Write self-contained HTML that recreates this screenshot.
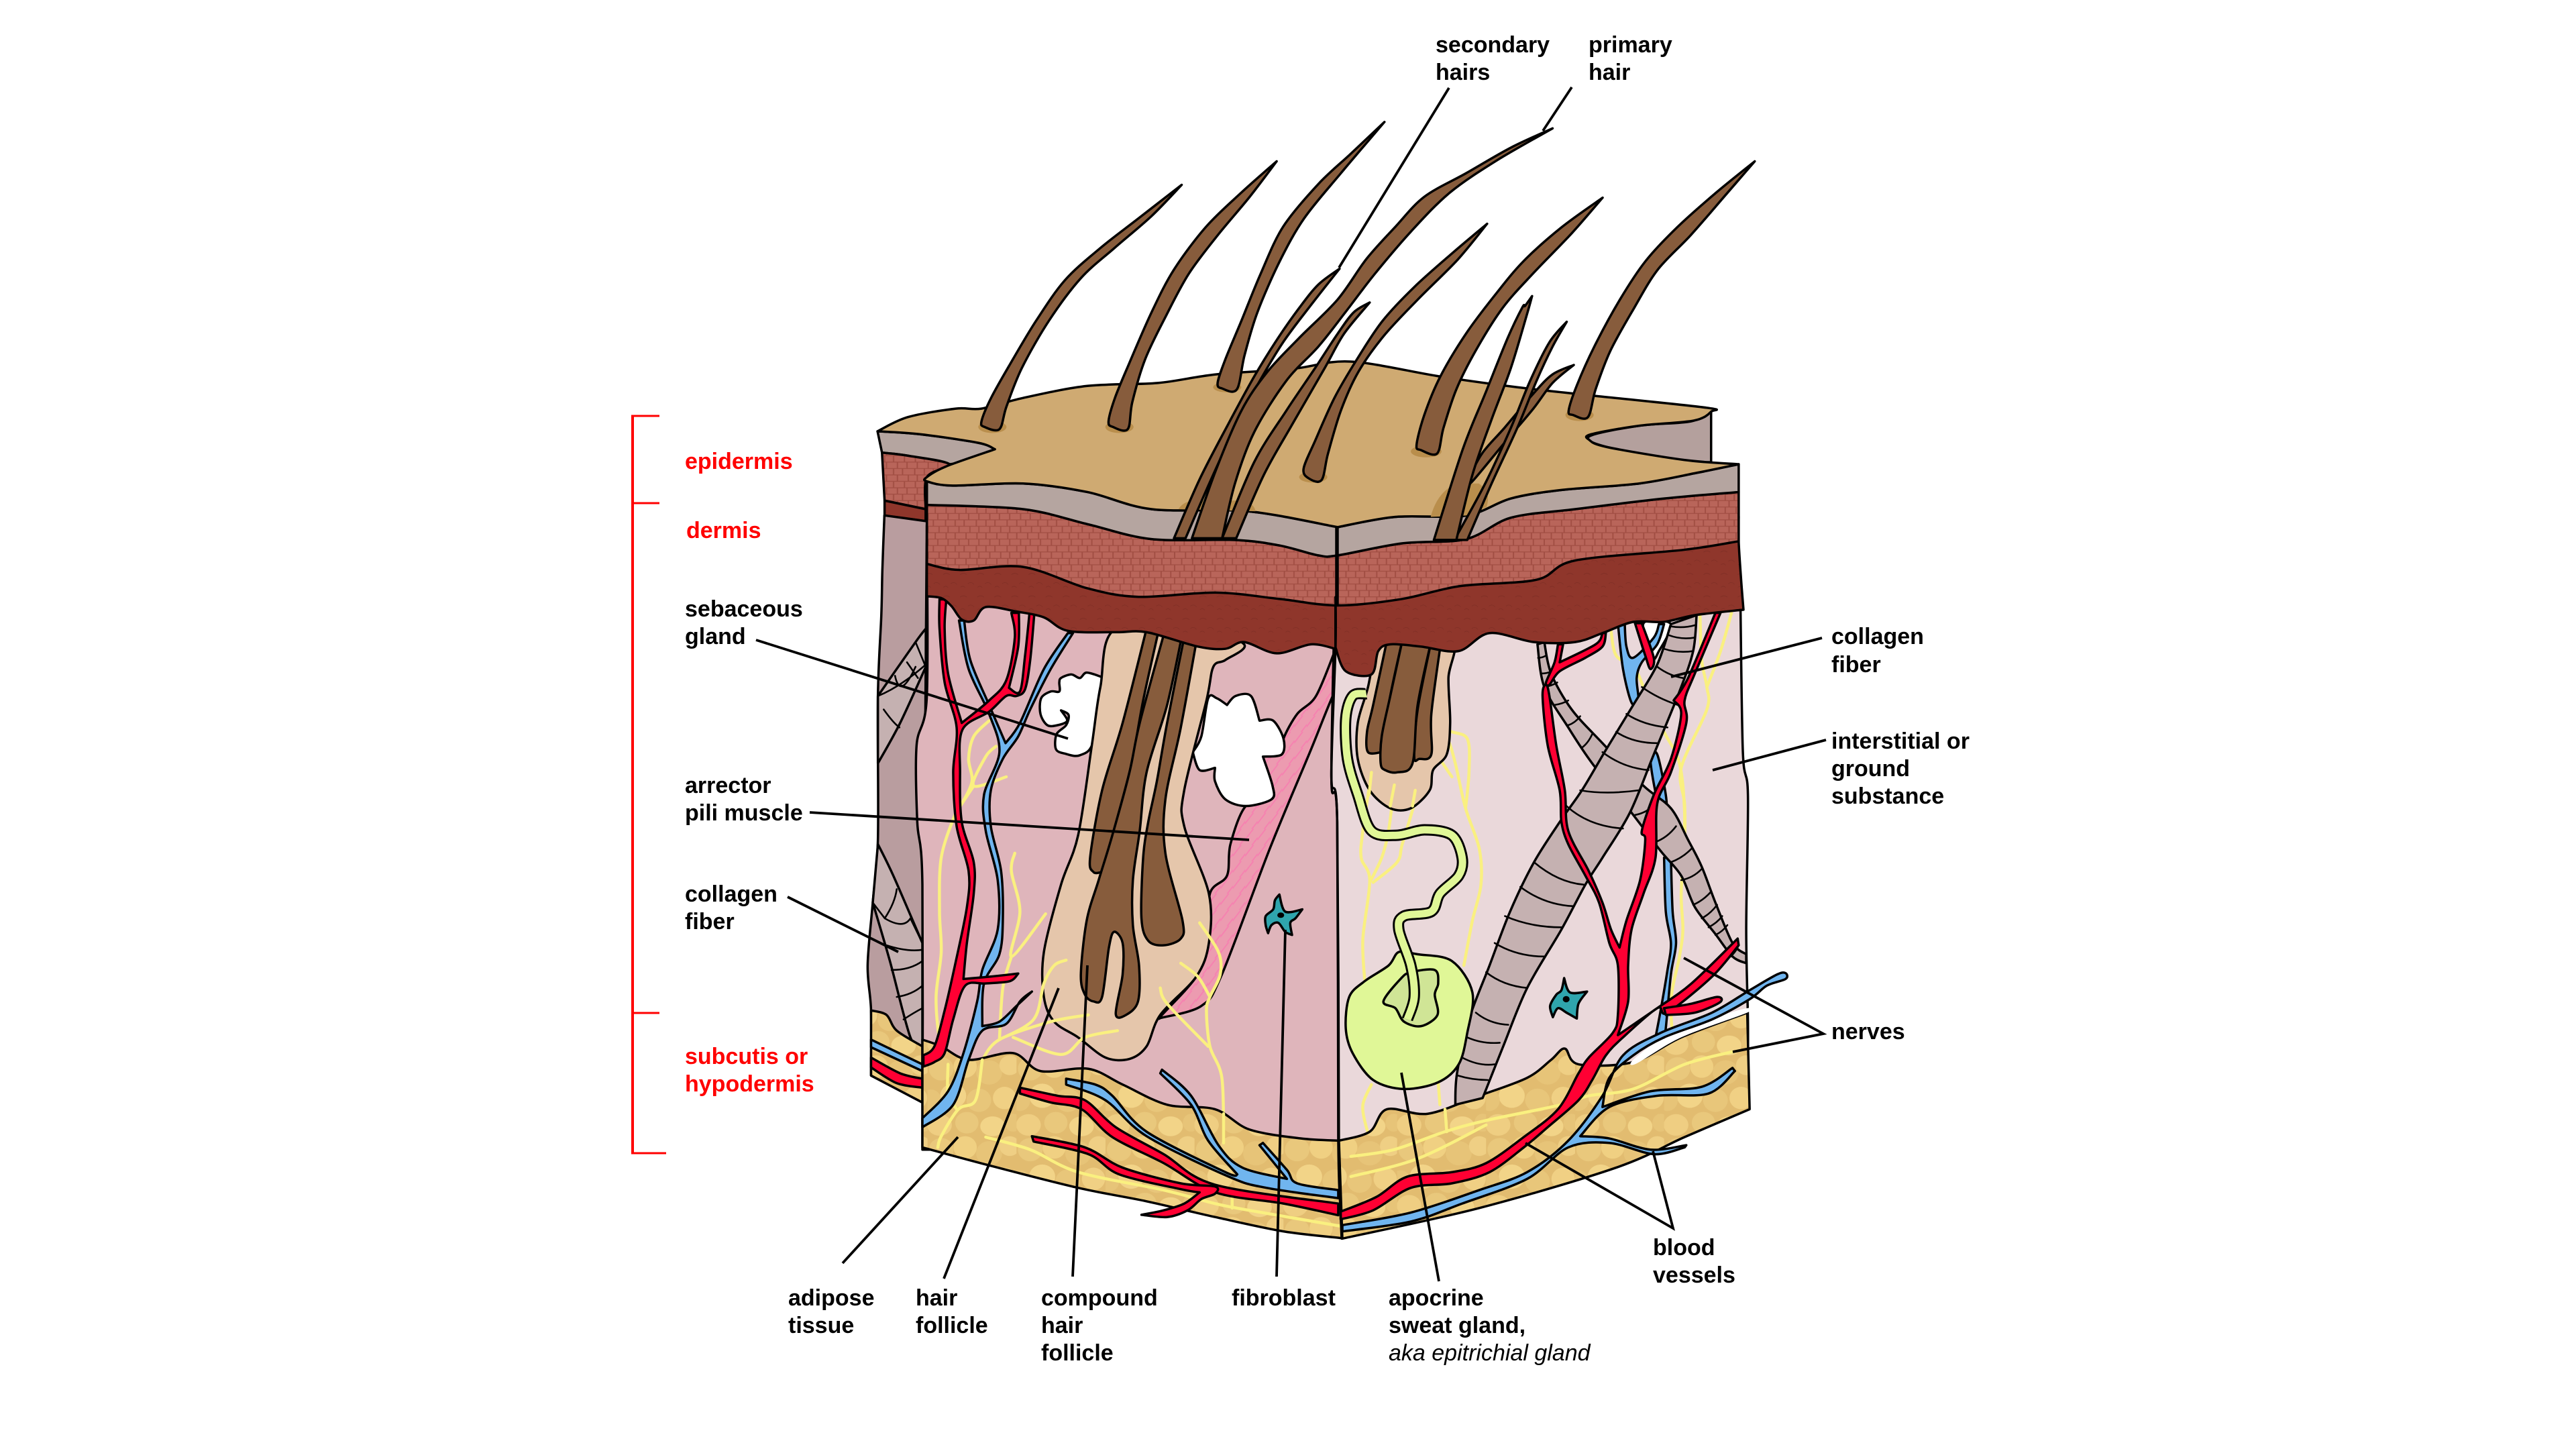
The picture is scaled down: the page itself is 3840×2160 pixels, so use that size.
<!DOCTYPE html>
<html><head><meta charset="utf-8"><title>Skin diagram</title>
<style>
html,body{margin:0;padding:0;background:#fff}
svg{display:block}
svg *{vector-effect:non-scaling-stroke}
.k{stroke:#000;stroke-width:3.5;stroke-linejoin:round;stroke-linecap:round}
.n{fill:none;stroke:#000;stroke-width:2.6;stroke-linecap:round;stroke-linejoin:round}
.y{fill:none;stroke:#faf080;stroke-width:4.5;stroke-linejoin:round;stroke-linecap:round}
.h{fill:#875c3c}
.r{fill:#ff0033}
.b{fill:#70b5ef}
.c{fill:#c5b1b1}
.l{stroke:#000;stroke-width:3.8;fill:none}
text{font-family:"Liberation Sans",Arial,sans-serif;font-size:34px;font-weight:bold;fill:#000}
.red{fill:#f00}
</style></head><body>
<svg xmlns="http://www.w3.org/2000/svg" width="3840" height="2160" viewBox="0 0 3840 2160">
<defs>
<pattern id="brick" width="48" height="60" patternUnits="userSpaceOnUse">
<rect width="48" height="60" fill="#a14e43"/>
<path d="M1 1h13v13h-13zM16 1h14v13h-14zM32 1h15v13h-15zM0 16h7v13h-7zM9 16h17v13h-17zM28 16h13v13h-13zM43 16h5v13h-5zM1 31h15v13h-15zM18 31h12v13h-12zM32 31h15v13h-15zM0 46h10v13h-10zM12 46h15v13h-15zM29 46h12v13h-12zM43 46h5v13h-5z" fill="#b9655a"/>
</pattern>
<pattern id="dark" width="50" height="50" patternUnits="userSpaceOnUse">
<rect width="50" height="50" fill="#8f362b"/>
<path d="M5 10q10-6 20 0M28 30q10-6 18 2M6 38q8-5 14 1" stroke="#7f2e25" stroke-width="1.2" fill="none"/>
</pattern>
<pattern id="fat" width="260" height="180" patternUnits="userSpaceOnUse">
<rect width="260" height="180" fill="#e2bc70"/>
<ellipse cx="40" cy="30" rx="36" ry="26" fill="#e9c87c"/>
<ellipse cx="110" cy="25" rx="34" ry="25" fill="#f0d082"/>
<ellipse cx="180" cy="38" rx="38" ry="27" fill="#e7c478"/>
<ellipse cx="240" cy="22" rx="30" ry="22" fill="#efcf84"/>
<ellipse cx="75" cy="90" rx="38" ry="27" fill="#f2d488"/>
<ellipse cx="150" cy="100" rx="36" ry="26" fill="#e8c67a"/>
<ellipse cx="225" cy="95" rx="34" ry="25" fill="#f0d084"/>
<ellipse cx="10" cy="100" rx="30" ry="24" fill="#e7c478"/>
<ellipse cx="35" cy="155" rx="36" ry="24" fill="#efce82"/>
<ellipse cx="115" cy="150" rx="34" ry="24" fill="#e9c87c"/>
<ellipse cx="190" cy="158" rx="36" ry="22" fill="#f2d488"/>
<ellipse cx="250" cy="150" rx="24" ry="20" fill="#e7c478"/>
</pattern>
<pattern id="mus" width="36" height="36" patternUnits="userSpaceOnUse">
<rect width="36" height="36" fill="#ec9bb0"/>
<path d="M-6 30L30-6M10 46L46 10" stroke="#f77fb0" stroke-width="3"/>
</pattern>
</defs>

<!-- back pieces, top surface coordinates -->
<g transform="translate(1200,0) scale(.9566,.6378)">
<polygon class="k" fill="#b4a09d" points="1222,1020 1300,995 1380,985 1412,962 1412,962 1412,1080 1412,1080 1370,1078 1250,1045"/>
<polygon class="k" fill="#b5a5a0" points="113,1008 113,1008 180,1015 270,1035 296,1050 225,1085 160,1065 120,1058 120,1058"/>
<polygon class="k" fill="url(#brick)" points="120,1058 120,1058 160,1065 225,1085 190,1115 188,1190 188,1190 124,1170 124,1170"/>
<polygon class="k" fill="#8f362b" points="124,1170 124,1170 188,1190 188,1190 188,1218 188,1218 124,1205 124,1205"/>
</g>

<!-- LEFT FACE -->
<g transform="translate(1250,850) scale(.5102,.6696)">
<polygon class="k" fill="#b99d9f" points="134,-122 134,-122 128,0 125,100 115,280 115,600 100,740 85,880 95,980 95,1125 95,1125 245,1185 245,1185 258,-109 258,-109"/>
<polygon class="k c" points="115,430 115,430 180,340 255,215 255,215 255,130 255,130 225,160 115,280 115,280"/>
<path class="n" d="M115,280Q180,260 255,210M165,235Q180,290 225,215M200,205L232,240M132,310Q160,340 178,350M225,160L252,210"/>
<polygon class="k c" points="115,610 115,610 160,680 245,830 245,830 245,1060 245,1060 210,1040 150,870 100,740 100,740"/>
<path class="n" d="M100,740L135,775Q165,740 170,710M135,775Q190,800 210,775L245,830M140,835Q200,850 245,845M155,890Q210,890 245,870M170,950Q215,945 245,925M190,1000Q220,985 245,975"/>
<polygon class="k" fill="url(#fat)" points="95,980 95,980 140,990 170,1025 245,1060 245,1060 245,1185 245,1185 95,1125 95,1125"/>
<polygon class="k b" points="95,1045 95,1045 245,1100 245,1100 245,1115 245,1115 95,1062 95,1062"/>
<polygon class="k r" points="95,1085 95,1085 180,1120 245,1132 245,1132 245,1152 245,1152 170,1142 95,1107 95,1107"/>

<polygon class="k" fill="#dfb5bb" points="258,-100 258,-100 258,280 228,390 230,560 245,700 245,1290 245,1290 1470,1290 1470,1290 1465,1270 1458,560 1440,460 1452,170 1452,-100 1452,-100"/>

<polygon class="k" fill="url(#mus)" points="1450,180 1450,180 1490,230 1490,230 1450,270 1380,400 1260,620 1120,900 1060,970 940,997 940,997 945,990 1045,905 1082,830 1085,720 1135,680 1145,610 1190,525 1265,510 1268,480 1240,415 1295,410 1300,375 1340,320 1395,280"/>
<polygon class="k" fill="#fff" points="650,240 680,232 705,240 725,228 770,238 770,238 745,380 705,412 660,408 635,398 637,365 665,345 672,322 650,312 650,312 668,335 640,345 610,345 590,320 592,285 620,270 645,270 645,250"/>
<polygon class="k" fill="#fff" points="1080,285 1105,285 1135,300 1135,300 1160,280 1205,280 1230,335 1230,335 1270,335 1300,375 1295,410 1240,415 1240,415 1268,480 1265,510 1190,525 1130,510 1100,470 1100,440 1100,440 1055,445 1035,405 1035,405 1060,370"/>

<polygon class="k" fill="#e5c6ab" points="810,130 765,260 740,390 700,590 650,700 600,850 600,950 630,1005 700,1040 780,1085 850,1088 900,1060 940,990 1045,905 1082,830 1082,720 1010,570 1010,490 1075,290 1095,215 1130,200 1185,165 1050,130"/>
<polygon class="k" fill="#f2ddc8" points="850,450 858,400 870,350 882,340 862,430"/>
<polygon class="k h" points="900,130 900,130 935,135 935,135 890,290 850,450 770,672 770,672 745,672 735,640 770,490 830,340"/>
<polygon class="k h" points="955,130 955,130 1005,140 1005,140 960,300 900,450 880,580 860,690 860,790 878,880 875,960 840,990 810,988 830,900 830,830 805,805 790,840 770,950 745,960 720,945 708,900 725,780 760,690 800,590 850,450 880,340"/>
<polygon class="k h" points="1015,130 1015,130 1050,140 1050,140 1000,350 955,510 955,630 1005,780 1000,820 950,835 905,825 885,775 890,640 905,560 930,470 960,340"/>

<path class="y" d="M440,335L395,370 380,420 390,470 360,520 340,545 300,640 295,760 300,850 285,950 295,1050 320,1165M460,392L430,415 395,480 490,460M395,480L360,520M515,630L505,670 530,760 505,860 605,765M505,860L480,930 470,1045M420,1090L470,1045 620,1005 730,990M665,868L630,880 600,920 570,1000 470,1045M510,1040L650,1078 720,1040 815,1025M1055,785L1110,850 1115,900 1085,950 1075,980 1085,1060 1120,1130 1125,1270M1000,875L1050,905 1085,950M940,930L960,965 1080,1060"/>

<polygon class="k" fill="url(#fat)" points="245,1045 245,1045 300,1060 380,1090 510,1075 590,1115 730,1110 830,1145 960,1190 1100,1200 1200,1245 1350,1265 1465,1270 1465,1270 1472,1487 1472,1487 1300,1472 1100,1440 900,1405 700,1375 440,1325 245,1285 245,1285"/>
<path class="y" d="M430,1262L560,1290 700,1340 950,1380 1100,1410 1200,1425 1465,1460M420,1090L400,1180 350,1200 300,1260 290,1285M1150,1395L1150,1420M320,1100L320,1165 345,1200M1125,1210L1125,1275"/>

<polygon class="k b" points="352,112 352,112 367,112 367,112 385,200 440,300 488,385 488,385 530,340 600,220 670,140 670,140 685,140 685,140 620,220 560,310 525,370 480,420 445,490 445,570 475,670 480,780 470,855 425,920 420,1015 420,1015 470,1005 520,970 565,938 565,938 530,960 490,1010 420,1025 380,1090 335,1190 245,1240 245,1240 245,1220 245,1220 320,1160 365,1075 405,960 420,890 465,800 465,690 430,580 425,500 470,405 440,320 380,220"/>
<polygon class="k r" points="295,65 295,65 315,65 315,65 310,130 320,230 360,340 360,340 440,290 490,245 515,150 505,95 505,95 527,95 527,95 525,170 498,262 498,262 530,270 545,190 558,95 558,95 572,97 572,97 560,200 545,265 520,280 490,280 440,315 362,355 355,450 360,560 395,650 395,720 375,830 365,910 365,910 440,905 525,898 525,898 500,915 430,920 370,925 335,1000 310,1075 280,1095 248,1105 248,1105 248,1080 248,1080 280,1060 310,980 340,880 375,750 380,670 345,570 335,450 345,350 310,250 295,130"/>

<polygon class="k r" points="530,1152 530,1152 640,1170 720,1180 810,1240 950,1300 1100,1368 1460,1410 1460,1410 1460,1436 1460,1436 1300,1410 1100,1385 950,1320 800,1262 710,1200 620,1185 530,1165 530,1165"/>
<polygon class="k r" points="565,1260 565,1260 720,1285 830,1330 1000,1365 1100,1372 1100,1388 1060,1400 1020,1425 960,1440 885,1435 885,1435 950,1425 1010,1410 1055,1385 1055,1385 1000,1378 820,1345 730,1300 570,1272 570,1272"/>
<polygon class="k b" points="665,1132 665,1132 750,1145 800,1170 900,1250 1130,1340 1165,1345 1165,1345 1080,1270 1030,1190 940,1120 940,1120 945,1112 945,1112 1030,1170 1110,1280 1180,1330 1310,1355 1310,1355 1230,1280 1230,1280 1240,1275 1240,1275 1310,1335 1340,1365 1460,1380 1460,1380 1460,1398 1460,1398 1250,1375 1140,1350 900,1260 780,1180 665,1145 665,1145"/>

<polygon class="k" fill="#2fa5ad" points="1288,722 1288,722 1305,760 1355,755 1355,755 1335,775 1320,785 1325,812 1325,812 1305,805 1285,785 1265,790 1255,808 1255,808 1248,790 1248,770 1270,755 1275,735"/>
<ellipse cx="1292" cy="768" rx="10" ry="6" fill="#000"/>
</g>

<!-- RIGHT FACE -->
<g transform="translate(1950,850) scale(.5102,.6696)">
<polygon class="k" fill="#ead8da" points="80,0 80,0 1262,0 1262,0 1270,400 1285,500 1280,800 1285,1000 1285,1100 1285,1100 90,1280 90,1280 85,560 68,460"/>
<path class="y" d="M885,135L900,190 955,220 990,280 1040,360 1085,430 1100,540 1095,640M1145,100L1150,200 1165,260 1165,310 1090,440 1100,520 1100,600 1090,720 1095,800 1085,860 1060,960 1070,1080M1237,95L1205,180 1165,260M390,310L410,355 465,375 470,450 460,530M385,355L410,380 430,430 460,530 500,620 505,700 480,780 455,880M380,415L420,460M185,450L160,580 155,640 180,690 160,820 165,910M252,478L235,580 215,640 180,695M313,490L310,520 275,610 260,650 190,695M185,1145L160,1190 170,1240 190,1280M380,1140L385,1190"/>

<polygon class="k" fill="url(#fat)" points="90,1270 90,1270 180,1250 230,1200 350,1210 500,1170 640,1130 710,1090 750,1065 790,1100 950,1095 1090,1040 1283,985 1283,985 1290,1200 1290,1200 1100,1262 900,1330 500,1420 100,1488 100,1488"/>
<polygon fill="#fff" points="950,1090 1040,1040 1180,998 1283,975 1283,985 1090,1040 960,1098"/>
<path class="y" d="M125,1305L250,1290 400,1250 520,1225 740,1190 820,1170 950,1155 1100,1100 1240,1072M125,1350L320,1310 520,1235M400,1200L405,1250"/>

<polygon fill="#fff" class="k" points="980,118 1060,120 1025,180 1005,195"/>
<polygon class="k b" points="905,118 905,118 925,118 925,118 930,170 950,195 1010,150 1025,120 1025,120 1040,120 1040,120 1020,165 975,205 960,240 965,290 945,295 920,220"/>
<polygon class="k b" points="1000,420 1020,410 1045,500 1045,540 1020,510"/>
<polygon class="k b" points="1015,1040 1015,1040 1030,980 1050,890 1060,830 1045,760 1040,640 1040,640 1060,640 1060,640 1065,760 1075,830 1060,900 1045,1020 1040,1040 1040,1040"/>

<!-- thin collagen -->
<polygon class="k c" points="670,165 670,165 690,160 690,160 710,230 770,310 860,385 980,480 1060,530 1110,600 1150,660 1190,740 1240,830 1280,855 1280,855 1280,875 1280,875 1240,860 1190,810 1130,750 1090,680 1030,625 945,540 830,430 760,350 690,260"/>
<path class="n" d="M672,195Q685,195 695,190M680,230Q698,230 712,225M690,260Q710,258 728,250M720,300Q742,298 760,290M760,345Q780,340 795,325M800,395Q818,385 830,365M955,545Q990,540 1015,520M1015,605Q1050,595 1075,570M1060,650Q1095,640 1120,620M1090,690Q1125,685 1150,665M1125,745Q1155,735 1178,715M1150,775Q1175,765 1195,745M1170,795Q1195,785 1210,770M1190,812Q1210,805 1225,790M1235,860Q1248,850 1255,840"/>
<!-- big collagen -->
<polygon class="k c" points="430,1190 430,1190 435,1120 470,1000 530,880 590,760 660,650 740,555 800,490 870,400 950,300 1020,210 1060,120 1060,120 1135,100 1135,100 1125,180 1085,270 1010,410 940,540 860,640 810,700 740,800 640,930 570,1060 510,1175 510,1175"/>
<path class="n" d="M437,1125Q480,1135 525,1135M450,1085Q500,1105 545,1100M465,1040Q510,1055 560,1052M490,985Q530,1010 585,1012M520,895Q570,925 640,930M545,830Q610,860 690,860M575,770Q650,795 740,795M620,705Q690,745 775,748M660,650Q730,695 805,700M755,525Q820,570 920,575M795,490Q870,500 965,490M860,405Q920,440 995,445M900,360Q950,385 1020,385M930,320Q980,345 1050,350M975,260Q1020,285 1080,300M1020,215Q1055,235 1095,240M1040,175Q1080,185 1125,180M1055,145Q1090,155 1130,150M1060,125Q1095,130 1132,122"/>

<polygon class="k r" points="730,165 730,165 745,165 745,165 735,205 735,205 840,165 860,140 860,140 870,140 870,140 860,170 810,195 735,225 705,255 695,250 720,205"/>
<polygon class="k r" points="955,118 955,118 975,118 975,118 1010,195 1000,220 985,190"/>
<polygon class="k b" points="100,1458 100,1458 300,1430 500,1380 640,1340 760,1270 860,1170 920,1080 1030,1030 1180,985 1290,935 1370,900 1395,897 1395,910 1340,925 1290,955 1180,1000 1040,1040 950,1080 880,1130 860,1195 860,1195 1000,1160 1150,1150 1240,1108 1240,1108 1247,1115 1247,1115 1170,1165 1020,1170 880,1195 795,1260 795,1260 880,1265 1000,1290 1105,1280 1105,1280 1100,1285 1100,1285 1010,1300 880,1275 760,1285 640,1355 450,1410 300,1450 100,1472 100,1472"/>
<polygon class="k r" points="95,1428 95,1428 200,1395 290,1350 420,1340 520,1320 630,1262 730,1200 790,1120 820,1085 890,1030 905,990 905,880 880,830 850,740 810,680 760,610 740,560 735,490 700,390 685,280 695,255 705,280 725,390 750,490 760,580 820,670 860,740 885,800 910,840 910,840 930,780 970,690 985,600 975,580 1010,500 1060,420 1090,320 1068,290 1068,290 1110,240 1190,95 1190,95 1205,95 1205,95 1130,230 1100,290 1105,340 1060,450 1020,520 1015,640 980,720 945,800 935,880 935,960 905,1035 905,1035 1020,975 1120,920 1255,820 1255,820 1258,835 1258,835 1180,905 1050,985 1020,975 920,1040 870,1080 830,1135 790,1180 700,1240 630,1285 530,1340 420,1365 300,1375 190,1425 95,1445 95,1445"/>
<polygon class="k r" points="1040,975 1040,975 1120,965 1195,950 1203,962 1130,985 1045,990 1045,990"/>

<polygon class="k" fill="#e5c6ab" points="205,150 240,140 420,150 410,240 415,340 405,410 365,445 355,490 300,530 240,530 180,490 145,420 145,340 175,260"/>
<path class="y" d="M185,450L178,500M252,478L240,525M313,490L305,525"/>
<polygon class="k h" points="235,140 235,140 280,140 280,140 240,280 215,405 215,405 175,405 172,360 190,300"/>
<polygon class="k h" points="362,150 362,150 390,150 390,150 360,320 360,410 325,420 310,415 320,310"/>
<polygon class="k h" points="280,140 280,140 362,150 362,150 320,300 305,430 260,450 225,445 212,430 215,370 240,280"/>

<polygon class="k" fill="#e0f797" points="110,1020 120,950 165,915 235,880 265,850 320,855 420,870 480,940 465,1030 440,1100 380,1140 280,1155 190,1135 130,1075"/>
<polygon class="k" fill="#d0e596" points="220,960 270,910 300,895 370,890 380,920 370,945 378,990 330,1015 280,1005 255,975"/>
<path class="t" fill="none" stroke="#000" stroke-width="17" stroke-linejoin="round" d="M170,275L130,280 110,330 115,420 145,500 185,580 260,590 340,578 420,590 450,640 440,680 385,720 360,760 280,770 265,800 300,880 310,950 290,1000"/>
<path class="t" fill="none" stroke="#e0f797" stroke-width="11" stroke-linejoin="round" d="M170,275L130,280 110,330 115,420 145,500 185,580 260,590 340,578 420,590 450,640 440,680 385,720 360,760 280,770 265,800 300,880 310,950 290,1000"/>

<polygon class="k" fill="#2fa5ad" points="748,908 748,908 765,940 815,938 815,938 790,965 785,998 785,998 755,985 730,975 715,995 715,995 707,970 725,945 740,935"/>
<ellipse cx="754" cy="955" rx="10" ry="7" fill="#000"/>
</g>

<!-- dark dermis band -->
<g transform="translate(1250,850) scale(.5102,.6696)">
<polygon class="k" fill="url(#dark)" points="258,-60 258,-60 258,58 258,58 300,62 330,80 360,110 395,112 430,82 520,92 600,105 670,135 810,138 900,138 1050,170 1130,175 1185,160 1280,185 1380,165 1452,175 1452,175 1452,10 1452,10"/>
</g>
<g transform="translate(1950,850) scale(.5102,.6696)">
<polygon class="k" fill="url(#dark)" points="80,10 80,10 80,172 80,172 110,225 185,232 205,180 240,165 330,170 440,180 530,140 660,160 780,160 860,140 950,115 1040,115 1130,100 1272,88 1272,88 1265,20 1258,-64 1258,-120 1258,-120"/>
</g>

<!-- top layers and hairs -->
<g transform="translate(1200,0) scale(.9566,.6378)">
<polygon class="k" fill="url(#brick)" points="190,1180 190,1180 340,1190 440,1225 540,1260 670,1262 740,1275 800,1298 830,1298 930,1270 1030,1260 1100,1210 1200,1190 1340,1165 1455,1150 1455,1150 1455,1265 1455,1265 1370,1285 1200,1310 1140,1355 1020,1370 930,1400 830,1415 740,1400 640,1385 520,1395 440,1375 340,1325 240,1332 190,1318 190,1318"/>
<polygon class="k" fill="#b5a5a0" points="190,1125 190,1125 230,1135 340,1130 440,1150 540,1190 690,1195 830,1232 830,1232 920,1208 1030,1205 1100,1165 1180,1145 1300,1130 1390,1105 1455,1085 1455,1085 1455,1150 1455,1150 1340,1165 1200,1190 1100,1210 1030,1260 930,1270 830,1298 800,1298 740,1275 670,1262 540,1260 440,1225 340,1190 190,1180 190,1180"/>
<polygon class="k" fill="#cfaa72" points="113,1008 113,1008 160,975 235,955 275,955 340,930 440,902 550,895 640,875 760,862 850,845 990,880 1110,905 1230,925 1405,953 1412,962 1385,983 1300,995 1225,1015 1222,1028 1250,1045 1370,1075 1455,1085 1455,1085 1390,1105 1300,1130 1180,1145 1100,1165 1030,1205 920,1208 830,1232 830,1232 690,1195 540,1190 440,1150 340,1130 230,1135 190,1125 190,1115 220,1090 296,1050 296,1050 270,1035 180,1015"/>
<g fill="#b98e4c">
<ellipse cx="292" cy="998" rx="22" ry="14"/><ellipse cx="490" cy="998" rx="22" ry="14"/><ellipse cx="658" cy="905" rx="22" ry="12"/><ellipse cx="792" cy="1115" rx="22" ry="13"/><ellipse cx="968" cy="1055" rx="24" ry="14"/><ellipse cx="1207" cy="970" rx="22" ry="14"/>
<path d="M582,1190Q590,1170 610,1170L680,1170Q700,1175 702,1195Z"/>
<path d="M975,1208Q985,1150 1015,1130L1050,1130Q1070,1150 1062,1185L1030,1205Z"/>
</g>
<polygon class="k h" points="587,432 587,432 520,510 460,580 405,655 360,750 320,850 290,930 275,985 280,998 303,1003 314,950 338,860 380,750 430,650 482,580 540,505"/>
<polygon class="k h" points="735,377 735,377 680,450 625,530 575,630 540,730 505,850 483,930 473,985 480,998 503,1003 510,940 530,840 562,740 598,640 643,550 693,460"/>
<polygon class="k h" points="903,285 903,285 850,360 800,430 745,530 710,640 680,750 655,840 643,895 650,908 673,910 685,830 705,730 740,610 778,510 835,405"/>
<polygon class="k h" points="1063,523 1063,523 1010,590 950,670 900,750 860,840 825,930 795,1030 777,1095 785,1118 805,1122 815,1060 835,960 862,870 902,785 955,700 1017,607"/>
<polygon class="k h" points="1243,462 1243,462 1180,530 1120,610 1075,690 1030,780 990,880 965,970 953,1040 960,1052 985,1060 995,1000 1015,910 1045,820 1087,720 1134,640 1195,545"/>
<polygon class="k h" points="1480,377 1480,377 1420,450 1360,530 1310,610 1270,700 1230,810 1203,900 1190,960 1197,970 1220,975 1232,910 1255,820 1292,720 1329,630 1380,550 1435,455"/>
<polygon class="k h" points="833,628 833,628 800,665 770,720 735,795 700,880 660,990 615,1120 575,1258 575,1258 593,1258 593,1258 630,1130 670,1000 705,900 745,800 790,710"/>
<polygon class="k h" points="880,707 880,707 855,730 830,780 795,860 750,960 700,1080 650,1258 650,1258 672,1258 672,1258 715,1110 760,990 810,860 840,780"/>
<polygon class="k h" points="1165,300 1165,300 1100,345 1030,405 965,460 920,530 875,605 830,700 770,790 720,870 680,960 640,1100 603,1258 603,1258 650,1258 650,1258 670,1130 700,1010 750,890 800,810 842,730 888,640 945,540 1005,450 1078,375"/>
<polygon class="k h" points="1198,853 1198,853 1165,875 1135,920 1090,1000 1055,1060 1030,1130 1030,1130 1040,1125 1090,1035 1135,955 1165,895"/>
<polygon class="k h" points="1187,752 1187,752 1160,800 1130,890 1100,1000 1060,1130 1012,1262 1012,1262 1032,1262 1032,1262 1070,1130 1110,1000 1140,890 1165,810"/>
<polygon class="k h" points="1133,692 1133,692 1122,715 1118,718 1095,790 1060,920 1025,1050 980,1262 980,1262 1015,1262 1015,1262 1040,1110 1070,980 1100,860 1125,735"/>
<path class="n" d="M830,1232V1415" style="stroke-width:3.5"/>
</g>
<path d="M1992,785V902" class="l" style="stroke-width:3.5"/>
<g transform="translate(1950,850) scale(.5102,.6696)"><path class="k t" fill="none" d="M80,60L80,172 68,460 85,560 88,1260 95,1430 98,1488"/></g>

<!-- leader lines -->
<g class="l">
<path d="M2160,131L1996,399"/>
<path d="M2343,130L2300,195"/>
<path d="M1127,954L1592,1101"/>
<path d="M1207,1211L1862,1252"/>
<path d="M1174,1337L1339,1419"/>
<path d="M2716,951L2491,1009"/>
<path d="M2722,1103L2553,1148"/>
<path d="M2510,1428L2718,1541L2583,1568"/>
<path d="M2274,1704L2494,1831L2464,1716"/>
<path d="M1428,1695L1256,1883"/>
<path d="M1578,1473L1407,1906"/>
<path d="M1621,1439L1599,1903"/>
<path d="M1916,1386L1903,1903"/>
<path d="M2089,1599L2145,1910"/>
</g>

<!-- red brackets -->
<g fill="none" stroke="#f00">
<path d="M943,620V1719" stroke-width="4"/>
<path d="M941,620H983M941,750H983M941,1510H983M941,1719H993" stroke-width="3"/>
</g>

<!-- labels -->
<text x="2140" y="78">secondary</text><text x="2140" y="119">hairs</text>
<text x="2368" y="78">primary</text><text x="2368" y="119">hair</text>
<text class="red" x="1021" y="699">epidermis</text>
<text class="red" x="1023" y="802">dermis</text>
<text x="1021" y="919">sebaceous</text><text x="1021" y="960">gland</text>
<text x="1021" y="1182">arrector</text><text x="1021" y="1223">pili muscle</text>
<text x="1021" y="1344">collagen</text><text x="1021" y="1385">fiber</text>
<text class="red" x="1021" y="1586">subcutis or</text><text class="red" x="1021" y="1627">hypodermis</text>
<text x="2730" y="960">collagen</text><text x="2730" y="1002">fiber</text>
<text x="2730" y="1116">interstitial or</text><text x="2730" y="1157">ground</text><text x="2730" y="1198">substance</text>
<text x="2730" y="1549">nerves</text>
<text x="2464" y="1871">blood</text><text x="2464" y="1912">vessels</text>
<text x="1175" y="1946">adipose</text><text x="1175" y="1987">tissue</text>
<text x="1365" y="1946">hair</text><text x="1365" y="1987">follicle</text>
<text x="1552" y="1946">compound</text><text x="1552" y="1987">hair</text><text x="1552" y="2028">follicle</text>
<text x="1836" y="1946">fibroblast</text>
<text x="2070" y="1946">apocrine</text><text x="2070" y="1987">sweat gland,</text>
<text x="2070" y="2028" style="font-weight:normal;font-style:italic">aka epitrichial gland</text>
</svg>
<script>
(function(){
var NS='http://www.w3.org/2000/svg';
function sm(p,closed){
  var n=p.length,d='M'+p[0][0]+','+p[0][1],t=0.16,last=closed?n:n-1;
  function at(i){return closed?p[(i+n)%n]:p[Math.max(0,Math.min(n-1,i))];}
  for(var i=0;i<last;i++){
    var a=at(i-1),b=at(i),c=at(i+1),e=at(i+2);
    if(b[0]===c[0]&&b[1]===c[1])continue;
    var c1=[b[0]+(c[0]-a[0])*t,b[1]+(c[1]-a[1])*t],c2=[c[0]-(e[0]-b[0])*t,c[1]-(e[1]-b[1])*t];
    d+='C'+c1[0].toFixed(1)+','+c1[1].toFixed(1)+' '+c2[0].toFixed(1)+','+c2[1].toFixed(1)+' '+c[0]+','+c[1];
  }
  return d+(closed?'Z':'');
}
function parse(s){
  var v=s.trim().split(/[\s,]+/).map(Number),r=[];
  for(var i=0;i+1<v.length;i+=2)r.push([v[i],v[i+1]]);
  return r;
}
var ps=document.querySelectorAll('polygon');
for(var i=0;i<ps.length;i++){
  var o=ps[i],q=document.createElementNS(NS,'path');
  for(var j=0;j<o.attributes.length;j++){var at=o.attributes[j];if(at.name!=='points')q.setAttribute(at.name,at.value);}
  q.setAttribute('d',sm(parse(o.getAttribute('points')),true));
  o.parentNode.replaceChild(q,o);
}
var ys=document.querySelectorAll('path.y,path.t');
for(var k=0;k<ys.length;k++){
  var parts=ys[k].getAttribute('d').split('M').filter(function(x){return x.trim();}),out='';
  parts.forEach(function(x){out+=sm(parse(x.replace('L',' ')),false);});
  ys[k].setAttribute('d',out);
}
})();
</script>
</body></html>
